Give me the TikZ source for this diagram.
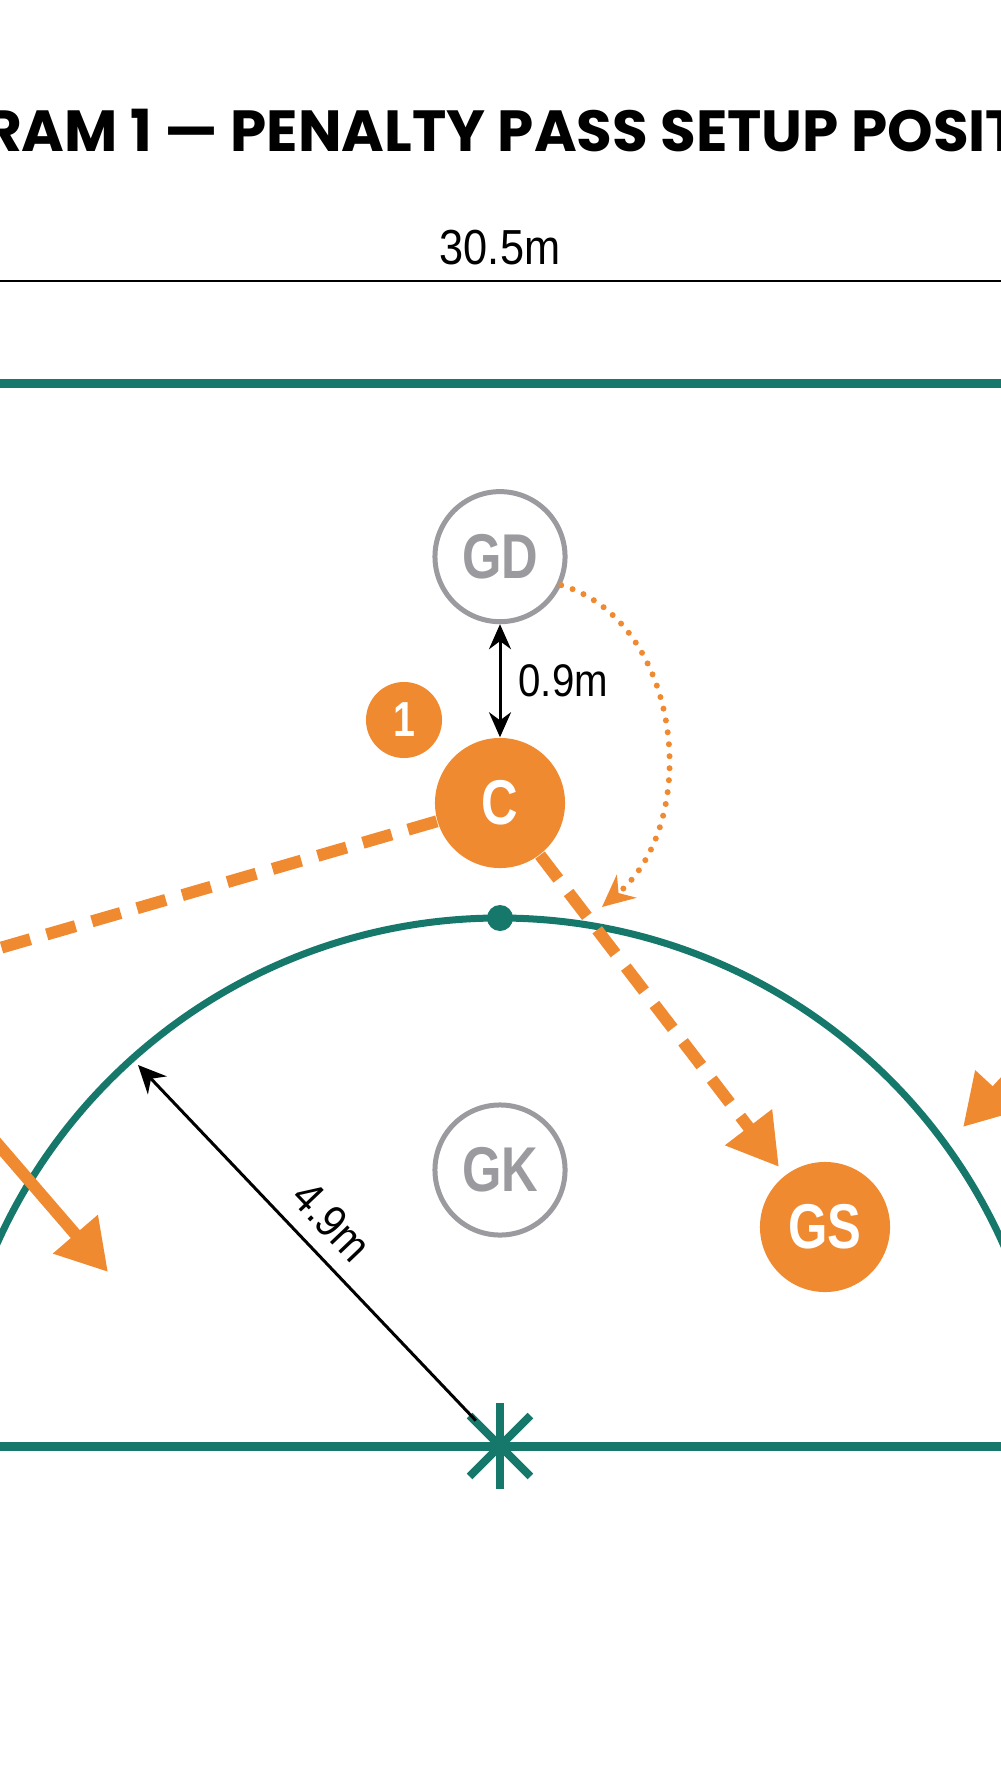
\documentclass[tikz,border=0pt]{standalone}
\usepackage{fontspec}
\usepackage{tikz}
\usetikzlibrary{arrows.meta, positioning, calc}
\setmainfont{Liberation Sans}
\newfontfamily\titlefont{Poppins}
\newfontfamily\labelfont{Liberation Sans}[FakeStretch=0.8]
\newfontfamily\dimfont{Liberation Sans}[FakeStretch=0.88]
\definecolor{court}{HTML}{16786B}
\definecolor{accent}{HTML}{F08A30}
\definecolor{muted}{HTML}{9B9B9F}

\begin{document}
\begin{tikzpicture}[x=0.01cm, y=-0.01cm,
    player/.style={circle, minimum size=1.3cm, inner sep=0pt, font=\labelfont\bfseries\fontsize{18}{18}\selectfont},
    attack/.style={player, fill=accent, text=white},
    defend/.style={player, draw=muted, line width=0.05cm, fill=white, text=muted},
    badge/.style={circle, fill=accent, text=white, minimum size=0.76cm, inner sep=0pt, font=\labelfont\bfseries\fontsize{14}{14}\selectfont},
    courtline/.style={court, line width=0.09cm},
    measure/.style={black, line width=0.03cm},
    dimlabel/.style={font=\dimfont\fontsize{13}{13}\selectfont, inner sep=0pt},
    passdash/.style={accent, line width=0.12cm, dash pattern=on 0.3cm off 0.17cm},
    run/.style={accent, line width=0.12cm, -{Triangle[length=0.5cm, width=0.56cm]}},
    cut/.style={accent, line width=0.06cm, line cap=round, dash pattern=on 0pt off 0.12cm, -{Stealth[length=0.32cm, width=0.3cm]}}]
    \fill[white] (0,0) rectangle (1000,1792);
    \useasboundingbox (0,0) rectangle (1000,1792);
    % title and court width
    \node[anchor=base, font=\titlefont\bfseries\fontsize{16.5}{16.5}\selectfont] (title) at (500,152) {DIAGRAM 1 — PENALTY PASS SETUP POSITIONS};
    \coordinate (wl) at (-50,281);
    \coordinate (wr) at (1050,281);
    \draw[black, line width=0.02cm] (wl) -- (wr) node[midway, above=0.15cm, dimlabel, font=\dimfont\fontsize{14}{14}\selectfont] {30.5m};
    % court lines
    \draw[courtline] (-50,384) -- (1050,384);
    \draw[courtline] (-50,1446) -- (1050,1446);
    \draw[court, line width=0.07cm] (500,1469) ++(182:551) arc[start angle=182, end angle=358, radius=551];
    \fill[court] (500,918) circle[radius=13];
    \coordinate (centre) at (500,1446);
    \foreach \a in {0,45,90,135}
      \draw[court, line width=0.08cm] (centre) ++(\a:43) -- ++(\a+180:86);
    % players
    \node[attack] (C) at (500,803) {C};
    \node[defend, above=1.13cm of C] (GD) {GD};
    \node[defend] (GK) at (500,1170) {GK};
    \node[attack] (GS) at (825,1227) {GS};
    \node[badge] (one) at (404,720) {1};
    % distances
    \draw[measure, {Stealth[length=0.25cm, width=0.22cm]}-{Stealth[length=0.25cm, width=0.22cm]}] (GD) -- (C) node[midway, right=0.17cm, dimlabel] {0.9m};
    \coordinate (arctip) at (138,1065);
    \draw[measure, shorten <=0.35cm, -{Stealth[length=0.28cm, width=0.26cm]}] (centre) -- (arctip) node[pos=0.53, sloped, above=0.15cm, dimlabel] {4.9m};
    % passes and runs
    \coordinate (wingpass) at (-100,977);
    \draw[passdash] (C) -- (wingpass);
    \draw[passdash, shorten >=0.1cm, -{Triangle[length=0.5cm, width=0.56cm]}] (C) -- (GS);
    \coordinate (gdcut) at (602,907);
    \draw[cut] (GD.-25) .. controls (680,620) and (705,820) .. (gdcut);
    \coordinate (leftrun) at (-80,1054);
    \coordinate (leftcut) at (108,1272);
    \draw[run] (leftrun) -- (leftcut);
    \coordinate (rightrun) at (1065,1017);
    \coordinate (rightcut) at (963,1127);
    \draw[run] (rightrun) -- (rightcut);
\end{tikzpicture}
\end{document}
